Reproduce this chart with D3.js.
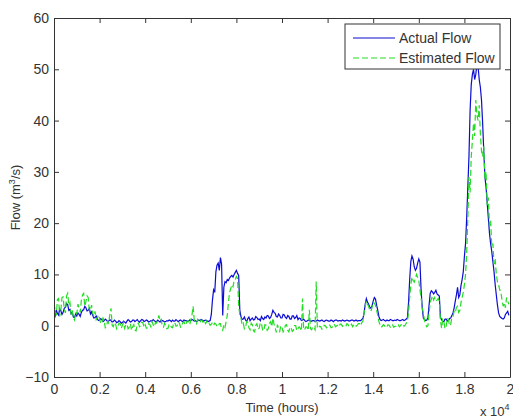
<!DOCTYPE html>
<html>
<head>
<meta charset="utf-8">
<script src="https://cdn.jsdelivr.net/npm/d3@7"></script>
<style>
  body { margin: 0; background: #fff; }
  svg { display: block; font-family: "Liberation Sans", Arial, sans-serif; }
</style>
</head>
<body>
<svg id="chart" width="513" height="419"></svg>
<script>

// one sample every 50 hours, t = 0 .. 19950 (20 samples per row)
var timeStep = 50;

var actualFlow = [
  2.5, 1.9, 3.1, 2.4, 2.1, 3.3, 2.9, 2.2, 2.6, 3.4, 3.6, 4.3, 4.1, 3.0, 3.2, 2.3, 2.6, 1.7, 1.6, 2.3,
  1.9, 2.5, 2.2, 1.8, 2.6, 3.0, 3.1, 3.8, 3.5, 2.9, 3.0, 3.4, 2.3, 2.7, 2.0, 1.5, 1.6, 1.9, 1.3, 1.0,
  1.1, 1.4, 1.2, 0.8, 1.0, 1.3, 1.1, 0.8, 0.9, 1.2, 1.0, 0.7, 0.8, 1.1, 0.9, 0.6, 0.7, 1.0, 0.8, 0.5,
  0.6, 0.9, 0.7, 0.5, 0.9, 1.2, 1.0, 0.7, 0.8, 1.1, 1.1, 0.8, 1.0, 1.2, 0.9, 0.7, 1.0, 1.2, 1.1, 0.8,
  0.9, 1.1, 1.0, 0.7, 0.8, 1.0, 0.9, 1.2, 1.0, 0.8, 0.8, 1.1, 0.9, 0.7, 1.1, 1.0, 0.9, 0.7, 0.8, 1.0,
  0.9, 1.1, 1.0, 0.8, 1.1, 0.9, 0.9, 1.2, 1.0, 0.8, 1.0, 1.1, 0.9, 0.8, 1.1, 1.0, 1.0, 0.8, 0.9, 1.1,
  1.0, 1.2, 1.1, 0.9, 1.0, 0.8, 0.9, 1.1, 1.0, 1.2, 1.1, 0.9, 1.0, 1.1, 1.0, 0.8, 0.9, 1.0, 2.2, 5.0,
  7.0, 6.5, 10.5, 11.8, 12.2, 10.8, 13.3, 12.0, 2.0, 7.5, 8.6, 8.4, 9.0, 8.8, 9.3, 9.6, 9.8, 9.5, 10.0, 10.4,
  10.8, 10.2, 9.8, 3.0, 1.8, 1.2, 1.3, 1.7, 1.1, 0.8, 1.4, 1.7, 1.0, 1.3, 1.5, 1.1, 1.2, 1.8, 1.6, 1.2,
  1.3, 1.0, 1.8, 1.4, 1.2, 1.7, 1.5, 2.0, 1.9, 1.4, 1.6, 2.2, 3.0, 2.6, 2.4, 1.8, 1.7, 2.3, 2.0, 1.5,
  1.5, 2.2, 2.1, 1.6, 1.4, 2.0, 1.8, 1.3, 1.3, 1.9, 1.9, 1.4, 1.6, 2.0, 1.2, 1.5, 1.4, 1.0, 1.1, 1.3,
  1.0, 0.8, 0.9, 1.1, 1.1, 0.9, 0.9, 1.0, 1.0, 0.8, 0.9, 1.1, 1.0, 0.9, 1.0, 1.1, 0.9, 0.8, 1.0, 1.1,
  1.0, 0.9, 0.9, 1.1, 1.0, 0.8, 1.0, 1.1, 1.1, 0.9, 1.0, 1.0, 0.9, 1.1, 1.0, 0.9, 1.0, 1.1, 1.0, 0.9,
  1.0, 1.1, 1.1, 0.9, 1.0, 1.1, 0.9, 1.0, 1.0, 1.0, 1.2, 1.4, 2.5, 4.2, 5.3, 4.6, 4.2, 3.6, 3.4, 3.9,
  4.8, 5.5, 5.2, 4.0, 3.0, 1.8, 1.2, 1.0, 1.1, 1.2, 1.0, 0.9, 1.1, 1.0, 1.0, 1.2, 1.1, 1.0, 1.0, 1.1,
  1.0, 1.2, 1.1, 1.0, 1.0, 1.1, 1.2, 1.0, 1.1, 1.3, 1.5, 4.5, 9.0, 12.5, 13.6, 13.0, 11.5, 10.8, 11.2, 12.2,
  13.0, 12.4, 7.0, 3.5, 1.5, 1.2, 1.0, 1.1, 1.5, 4.0, 6.3, 6.8, 6.6, 6.2, 6.5, 6.9, 6.2, 6.0, 5.8, 1.6,
  1.2, 0.8, 0.8, 1.3, 1.3, 0.9, 1.0, 1.4, 1.5, 2.0, 2.5, 3.5, 4.8, 6.0, 7.5, 5.5, 6.0, 7.8, 9.0, 10.5,
  13.5, 16.0, 21.0, 27.0, 33.0, 42.0, 47.0, 49.0, 50.0, 48.0, 49.0, 51.0, 50.5, 48.0, 46.5, 44.0, 39.5, 34.0, 29.0, 27.0,
  24.0, 21.0, 18.0, 16.0, 14.5, 12.5, 10.5, 8.0, 6.0, 4.0, 2.5, 1.8, 1.6, 1.4, 1.3, 1.5, 2.2, 2.5, 2.8, 2.0
];

var estimatedFlow = [
  4.4, 3.0, 2.0, 5.1, 5.3, 1.8, 3.0, 5.5, 5.6, 3.2, 2.5, 5.8, 6.3, 4.0, 4.5, 2.2, 3.0, 1.5, 1.1, 2.6,
  2.3, 4.2, 3.5, 2.6, 5.0, 6.0, 6.3, 3.8, 4.7, 5.8, 5.5, 2.9, 3.2, 4.0, 2.4, 1.8, 2.8, 1.2, 1.6, 2.1,
  1.4, 0.4, 0.8, 1.5, 1.0, -0.4, -0.2, 0.9, 0.5, 2.2, 3.4, 0.1, -0.2, 0.6, 0.3, -0.6, -0.2, 0.5, 0.4, -0.5,
  0.1, 0.6, -0.5, 0.2, 0.3, -0.6, -0.3, 0.4, -0.9, -0.2, 0.2, -0.8, -1.0, 0.3, 0.5, -0.2, 0.0, 0.7, 0.6, -0.3,
  0.2, -0.5, -0.4, 0.4, 0.3, -0.2, 0.8, 0.2, -0.2, 0.6, 0.5, 1.2, 2.0, 0.9, 1.2, -0.1, -0.3, 0.4, 0.1, -0.6,
  -0.5, 0.2, 0.3, -0.3, -0.4, 0.5, 0.6, -0.1, 0.0, 0.7, 0.5, -0.3, -0.2, 0.6, 0.8, 0.1, 0.4, 1.0, 0.9, 0.2,
  1.0, 2.0, 3.8, 1.2, 0.8, 0.4, 1.2, 0.7, 0.6, 1.1, 1.0, 0.5, 0.8, 0.4, 0.9, 0.3, 0.5, 0.1, 0.3, 0.6,
  0.1, 0.5, 0.3, -0.1, -0.2, 0.4, 0.4, -0.6, -0.9, 0.2, -0.3, 0.8, 2.0, 4.5, 6.5, 7.2, 8.0, 7.6, 8.8, 9.0,
  9.6, 9.2, 4.0, 2.0, 1.5, 0.2, 0.5, -0.6, -0.3, 0.8, 0.6, -0.4, -0.8, 0.5, 0.2, -1.0, -1.2, 0.1, 0.4, -0.7,
  -0.5, 0.6, 0.3, -0.8, -1.0, 0.2, 0.1, -0.9, -0.6, 0.5, 0.8, -0.2, 1.5, 0.3, -0.4, -1.3, 0.2, -0.6, -1.1, 0.0,
  -0.3, -1.2, -0.8, 0.1, 0.2, -0.9, -1.2, -0.3, -0.4, -1.1, -0.9, 0.0, 0.0, -1.0, -0.6, -0.2, -0.5, -1.0, 5.3, -0.8,
  -0.7, -0.2, -0.3, -0.9, 3.1, -0.6, -0.8, -0.2, -0.4, -0.8, 8.6, -0.5, -0.5, -0.1, -0.2, -0.7, -0.6, 0.1, 0.0, -0.4,
  -0.2, 0.2, 0.1, -0.4, -0.3, 0.3, 0.2, -0.2, 0.0, 0.1, -0.2, 0.3, 0.3, -0.1, 0.1, 0.0, -0.1, 0.4, 0.2, -0.2,
  0.0, 0.3, -0.2, 0.2, 0.3, -0.1, 0.1, 0.4, 0.4, 0.0, 0.6, 0.9, 2.5, 3.8, 4.8, 4.2, 3.8, 3.0, 2.8, 3.6,
  4.6, 4.4, 4.0, 3.0, 2.0, 0.8, 0.2, -0.3, -0.1, 0.2, 0.0, -0.4, -0.2, 0.2, 0.1, -0.3, 0.0, 0.2, -0.3, -0.1,
  -0.1, 0.3, 0.2, -0.2, 0.0, 0.4, 0.3, -0.1, 0.1, 0.5, 0.8, 2.5, 5.5, 8.0, 9.5, 8.8, 8.5, 9.2, 10.0, 9.4,
  8.8, 7.0, 5.5, 3.5, 2.5, 1.0, 0.3, -0.2, 0.0, 2.5, 4.5, 5.2, 5.8, 5.0, 5.5, 4.8, 5.0, 5.3, 4.8, 1.0,
  -0.5, 1.2, 0.8, -0.6, -0.2, 1.5, 1.2, 0.0, 0.3, 1.6, 1.8, 2.8, 2.5, 3.6, 3.8, 2.6, 3.0, 4.5, 5.5, 6.5,
  8.0, 10.0, 14.0, 21.0, 29.0, 26.0, 33.0, 36.0, 39.5, 37.0, 44.0, 41.0, 40.0, 43.0, 37.5, 34.0, 33.0, 35.0, 28.5, 30.0,
  23.5, 25.0, 19.5, 20.5, 15.5, 16.0, 12.0, 13.0, 10.0, 8.5, 8.0, 7.0, 6.5, 5.0, 3.8, 4.5, 3.5, 5.5, 4.8, 4.2
];

var xTickValues = [0, 2000, 4000, 6000, 8000, 10000, 12000, 14000, 16000, 18000, 20000];
var yTickValues = [-10, 0, 10, 20, 30, 40, 50, 60];
var seriesNames = ["Actual Flow", "Estimated Flow"];
var seriesColors = ["#0c0cd2", "#22dd22"];

var svg = d3.select("#chart");
var plotLeft = 54, plotRight = 510, plotTop = 18, plotBottom = 377;

var x = d3.scaleLinear().domain([0, 20000]).range([plotLeft, plotRight]);
var y = d3.scaleLinear().domain([-10, 60]).range([plotBottom, plotTop]);

svg.append("clipPath").attr("id", "plotClip")
  .append("rect")
  .attr("x", plotLeft).attr("y", plotTop)
  .attr("width", plotRight - plotLeft).attr("height", plotBottom - plotTop);

var line = d3.line()
  .x(function (d, i) { return x(i * timeStep); })
  .y(function (d) { return y(d); });

var plot = svg.append("g").attr("clip-path", "url(#plotClip)");

plot.append("path")
  .datum(actualFlow)
  .attr("fill", "none")
  .attr("stroke", seriesColors[0])
  .attr("stroke-width", 1.2)
  .attr("d", line);

plot.append("path")
  .datum(estimatedFlow)
  .attr("fill", "none")
  .attr("stroke", seriesColors[1])
  .attr("stroke-width", 1.2)
  .attr("stroke-dasharray", "6,3")
  .attr("d", line);

// axes, MATLAB style box with inward ticks
function styleAxis(g) {
  g.select(".domain").attr("stroke", "#333");
  g.selectAll(".tick line").attr("stroke", "#333");
  g.selectAll(".tick text")
    .attr("fill", "#333")
    .style("font-size", "14px")
    .style("font-family", "Liberation Sans, Arial, sans-serif");
}

var fmtX = function (d) { return String(+(d / 10000).toFixed(1)); };

svg.append("g")
  .attr("transform", "translate(0," + plotBottom + ")")
  .call(d3.axisBottom(x).tickValues(xTickValues).tickFormat(fmtX)
    .tickSizeInner(-5).tickSizeOuter(0).tickPadding(7))
  .call(styleAxis);

svg.append("g")
  .attr("transform", "translate(0," + plotTop + ")")
  .call(d3.axisTop(x).tickValues(xTickValues).tickFormat("")
    .tickSizeInner(-5).tickSizeOuter(0))
  .call(styleAxis);

svg.append("g")
  .attr("transform", "translate(" + plotLeft + ",0)")
  .call(d3.axisLeft(y).tickValues(yTickValues)
    .tickSizeInner(-5).tickSizeOuter(0).tickPadding(5))
  .call(styleAxis);

svg.append("g")
  .attr("transform", "translate(" + plotRight + ",0)")
  .call(d3.axisRight(y).tickValues(yTickValues).tickFormat("")
    .tickSizeInner(-5).tickSizeOuter(0))
  .call(styleAxis);

// axis labels
svg.append("text")
  .attr("x", (plotLeft + plotRight) / 2)
  .attr("y", 412)
  .attr("text-anchor", "middle")
  .attr("fill", "#333")
  .style("font-size", "13px")
  .text("Time (hours)");

var yLab = svg.append("text")
  .attr("transform", "translate(20," + (plotTop + plotBottom) / 2 + ") rotate(-90)")
  .attr("text-anchor", "middle")
  .attr("fill", "#333")
  .style("font-size", "13px");
yLab.append("tspan").text("Flow (m");
yLab.append("tspan").attr("dy", -5).style("font-size", "9px").text("3");
yLab.append("tspan").attr("dy", 5).text("/s)");

var expo = svg.append("text")
  .attr("x", 480)
  .attr("y", 416)
  .attr("fill", "#333")
  .style("font-size", "13px");
expo.append("tspan").text("x 10");
expo.append("tspan").attr("dy", -6).style("font-size", "9px").text("4");

// legend
var legend = svg.append("g");
legend.append("rect")
  .attr("x", 345).attr("y", 24)
  .attr("width", 155).attr("height", 45)
  .attr("fill", "#fff")
  .attr("stroke", "#333");

seriesNames.forEach(function (name, i) {
  var ly = 38 + i * 20;
  legend.append("line")
    .attr("x1", 353).attr("x2", 395)
    .attr("y1", ly).attr("y2", ly)
    .attr("stroke", seriesColors[i])
    .attr("stroke-width", 1.2)
    .attr("stroke-dasharray", i === 1 ? "6,3" : null);
  legend.append("text")
    .attr("x", 399).attr("y", ly + 5)
    .attr("fill", "#333")
    .style("font-size", "14px")
    .text(name);
});

</script>
</body>
</html>
